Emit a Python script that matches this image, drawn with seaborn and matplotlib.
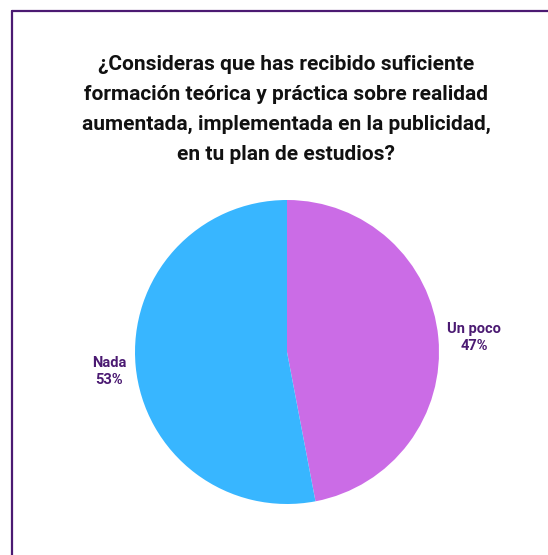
import matplotlib
matplotlib.use("Agg")
import numpy as np
import matplotlib.pyplot as plt
import seaborn as sns

# Survey answers and their shares (percent)
categories = ["Un poco", "Nada"]
shares = [47, 53]
colors = ["#CB6CE6", "#38B6FF"]

title = ("¿Consideras que has recibido suficiente\n"
         "formación teórica y práctica sobre realidad\n"
         "aumentada, implementada en la publicidad,\n"
         "en tu plan de estudios?")

sns.set_theme(style="white")
plt.rcParams["font.family"] = ["Roboto", "DejaVu Sans"]

W, H = 548, 555
fig = plt.figure(figsize=(W / 100, H / 100), dpi=100)
fig.patch.set_facecolor("white")

# Frame lines along the top and left edges
border = "#4B1A72"
fig.add_artist(plt.Line2D([12 / W, 12 / W], [0, 1 - 11 / H], color=border, lw=1.6,
                          transform=fig.transFigure))
fig.add_artist(plt.Line2D([12 / W, 1], [1 - 11 / H, 1 - 11 / H], color=border, lw=1.6,
                          transform=fig.transFigure))

# Pie axes: centre (287, 352) px, radius 152 px
cx, cy, r = 287, 352, 152
ax = fig.add_axes([(cx - r) / W, (H - cy - r) / H, 2 * r / W, 2 * r / H])

wedges, _ = ax.pie(shares, colors=colors, startangle=90, counterclock=False,
                   wedgeprops=dict(linewidth=0))

# Category labels placed outside each wedge, along its middle angle
label_dist = [1.235, 1.175]
for w, cat, s, d in zip(wedges, categories, shares, label_dist):
    mid = np.deg2rad((w.theta1 + w.theta2) / 2)
    ax.text(d * np.cos(mid), d * np.sin(mid) - 0.02, f"{cat}\n{s}%",
            ha="center", va="center", multialignment="center",
            fontsize=10.5, fontweight="bold", color="#4B1A72",
            linespacing=1.3, clip_on=False)

ax.set_xlim(-1, 1)
ax.set_ylim(-1, 1)
ax.set_aspect("equal")
ax.axis("off")

fig.text(286 / W, 1 - 55 / H, title, ha="center", va="top", fontsize=15,
         fontweight="bold", color="#111111", linespacing=1.74)

fig.savefig("out.png", dpi=100, facecolor="white")
